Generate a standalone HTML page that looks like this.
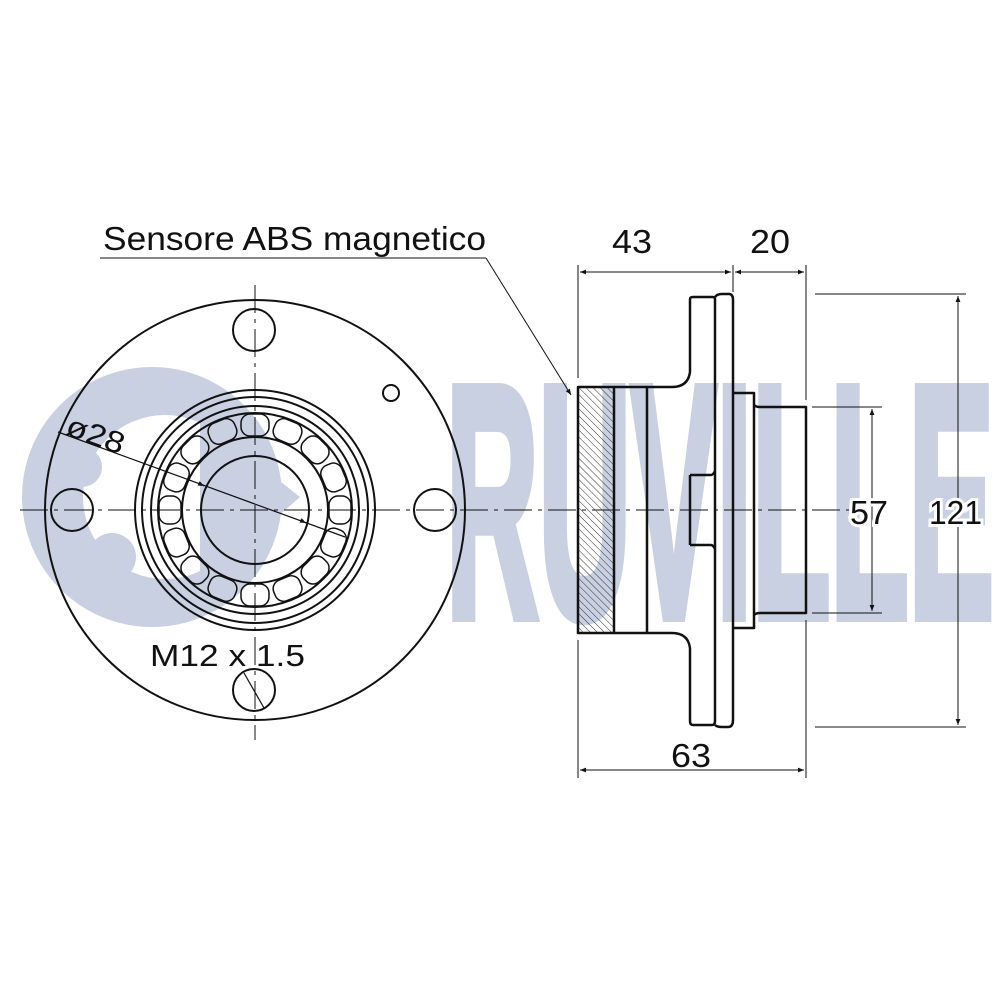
<!DOCTYPE html>
<html><head><meta charset="utf-8"><style>
html,body{margin:0;padding:0;background:#fff;}
svg{display:block;}
text{font-family:"Liberation Sans",Arial,sans-serif;}
</style></head><body>
<svg width="1000" height="1000" viewBox="0 0 1000 1000" xmlns="http://www.w3.org/2000/svg">
<defs>
<marker id="ar" viewBox="0 0 10 10" refX="10" refY="5" markerWidth="12" markerHeight="6" orient="auto-start-reverse" markerUnits="userSpaceOnUse"><path d="M0,1 L10,5 L0,9 z" fill="#111"/></marker>
<pattern id="hatch" width="5" height="5" patternUnits="userSpaceOnUse" patternTransform="rotate(-45)"><line x1="0" y1="0" x2="0" y2="5" stroke="#333" stroke-width="1"/></pattern>
</defs>
<!-- watermark -->
<g fill="#c8d0e2">
<circle cx="152" cy="497" r="130"/>
<circle cx="165" cy="497" r="82" fill="#fff"/>
<circle cx="82" cy="467" r="20"/>
<circle cx="112" cy="557" r="24"/>
<circle cx="105" cy="420" r="16"/>
<rect x="200" y="400" width="28" height="200"/>
<path d="M228,440 L300,497 L228,560 z"/>
<text x="446" y="616" font-size="330" font-weight="bold" textLength="548" lengthAdjust="spacingAndGlyphs" stroke="#c8d0e2" stroke-width="12" stroke-linejoin="miter">RUVILLE</text>
</g>
<g fill="none" stroke="#111" stroke-width="2">
<circle cx="255" cy="510" r="210"/>
<circle cx="254" cy="330" r="21"/>
<circle cx="254" cy="690" r="21"/>
<circle cx="72" cy="510" r="21"/>
<circle cx="435" cy="510" r="21"/>
<circle cx="391" cy="393" r="8"/>
<circle cx="255" cy="510" r="120"/>
<circle cx="255" cy="510" r="113"/>
<circle cx="255" cy="510" r="104"/>
<circle cx="255" cy="510" r="97"/>
<circle cx="255" cy="510" r="73"/>
<circle cx="255" cy="510" r="54"/>
</g>
<g fill="none" stroke="#111" stroke-width="1.5">
<g id="rol">
<rect x="241" y="414" width="28" height="22" rx="9"/>
</g>
<use href="#rol" transform="rotate(22.5 255 510)"/>
<use href="#rol" transform="rotate(45 255 510)"/>
<use href="#rol" transform="rotate(67.5 255 510)"/>
<use href="#rol" transform="rotate(90 255 510)"/>
<use href="#rol" transform="rotate(112.5 255 510)"/>
<use href="#rol" transform="rotate(135 255 510)"/>
<use href="#rol" transform="rotate(157.5 255 510)"/>
<use href="#rol" transform="rotate(180 255 510)"/>
<use href="#rol" transform="rotate(202.5 255 510)"/>
<use href="#rol" transform="rotate(225 255 510)"/>
<use href="#rol" transform="rotate(247.5 255 510)"/>
<use href="#rol" transform="rotate(270 255 510)"/>
<use href="#rol" transform="rotate(292.5 255 510)"/>
<use href="#rol" transform="rotate(315 255 510)"/>
<use href="#rol" transform="rotate(337.5 255 510)"/>
</g>
<g stroke="#111" stroke-width="1" stroke-dasharray="28,6,4,6">
<line x1="20" y1="510" x2="850" y2="510"/>
<line x1="255" y1="285" x2="255" y2="740"/>
</g>
<line x1="244" y1="673" x2="264" y2="708" stroke="#111" stroke-width="1.2"/>
<line x1="58" y1="432" x2="345" y2="537" stroke="#111" stroke-width="1.2"/>
<line x1="200" y1="484" x2="204" y2="486" stroke="#111" marker-end="url(#ar)"/>
<line x1="300" y1="520" x2="306" y2="523" stroke="#111" marker-end="url(#ar)"/>
<text x="0" y="0" font-size="30" fill="#111" transform="translate(64,434) rotate(20)" textLength="60" lengthAdjust="spacingAndGlyphs">ø28</text>
<text x="150" y="666" font-size="31" fill="#111" textLength="155" lengthAdjust="spacingAndGlyphs">M12 x 1.5</text>
<g fill="none" stroke="#111" stroke-width="2.5" stroke-linejoin="round">
<rect x="578" y="387" width="36" height="246" fill="url(#hatch)"/>
<path d="M614,387 H672 Q688,387 690,372"/>
<path d="M614,633 H672 Q688,633 690,648"/>
<line x1="647" y1="387" x2="647" y2="633"/>
<path d="M690,372 V299 Q690,297 693,297 H713 Q715,297 715,299 V721 Q715,725 712,725 H693 Q690,725 690,721 V648"/>
<path d="M715,297 Q717,294 722,294 H729 Q733,294 733,300 V720 Q733,727 728,727 H722 Q717,727 715,725"/>
<path d="M690,475 H711 Q713,475 715,471"/>
<path d="M690,545 H711 Q713,545 715,549"/>
<line x1="690" y1="475" x2="690" y2="545"/>
<path d="M733,393 H754 V628 H733"/>
<path d="M754,405 Q756,407 760,407 H806 V613 H760 Q756,613 754,615"/>
</g>
<g stroke="#111" stroke-width="1">
<line x1="578" y1="265" x2="578" y2="378"/>
<line x1="578" y1="640" x2="578" y2="778"/>
<line x1="733" y1="265" x2="733" y2="292"/>
<line x1="806" y1="265" x2="806" y2="400"/>
<line x1="806" y1="620" x2="806" y2="778"/>
<line x1="580" y1="272" x2="731" y2="272" marker-start="url(#ar)" marker-end="url(#ar)"/>
<line x1="735" y1="272" x2="804" y2="272" marker-start="url(#ar)" marker-end="url(#ar)"/>
<line x1="580" y1="770" x2="804" y2="770" marker-start="url(#ar)" marker-end="url(#ar)"/>
<line x1="812" y1="407" x2="882" y2="407"/>
<line x1="812" y1="613" x2="882" y2="613"/>
<line x1="872" y1="409" x2="872" y2="611" marker-start="url(#ar)" marker-end="url(#ar)"/>
<line x1="815" y1="294" x2="966" y2="294"/>
<line x1="815" y1="727" x2="966" y2="727"/>
<line x1="958" y1="296" x2="958" y2="725" marker-start="url(#ar)" marker-end="url(#ar)"/>
<line x1="100" y1="258" x2="486" y2="258"/>
<line x1="486" y1="258" x2="571" y2="395" marker-end="url(#ar)"/>
</g>
<g fill="#111" font-size="33">
<text x="103" y="250" textLength="383" lengthAdjust="spacingAndGlyphs">Sensore ABS magnetico</text>
<text x="612" y="253" textLength="40" lengthAdjust="spacingAndGlyphs">43</text>
<text x="750" y="253" textLength="40" lengthAdjust="spacingAndGlyphs">20</text>
<text x="671" y="767" textLength="40" lengthAdjust="spacingAndGlyphs">63</text>
<text x="850" y="524" textLength="38" lengthAdjust="spacingAndGlyphs" stroke="#fff" stroke-width="6" paint-order="stroke">57</text>
<text x="929" y="524" textLength="53" lengthAdjust="spacingAndGlyphs" stroke="#fff" stroke-width="6" paint-order="stroke">121</text>
</g>
</svg>
</body></html>
